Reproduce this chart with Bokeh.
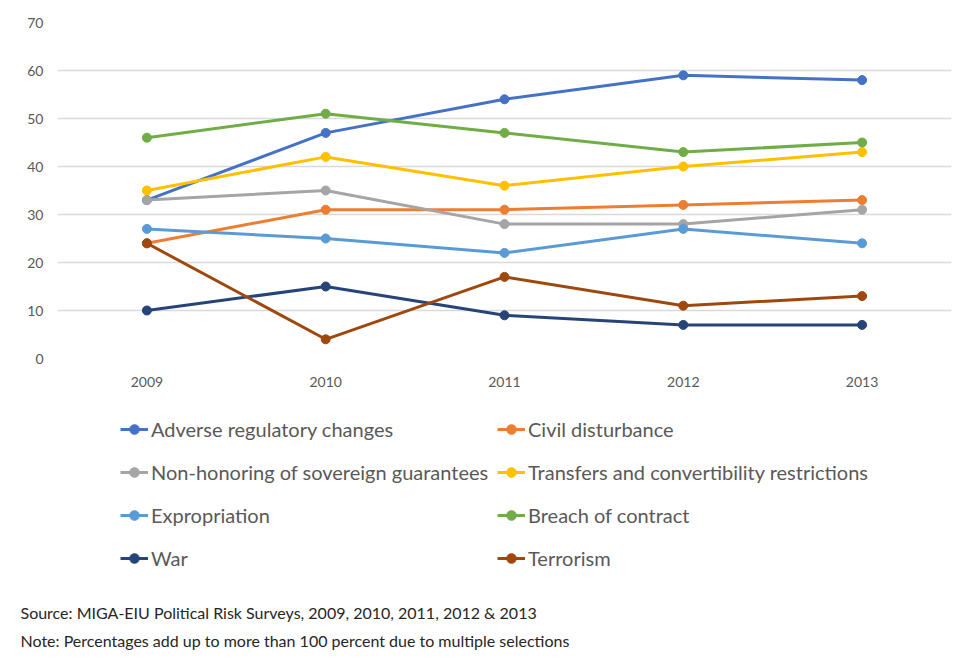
from bokeh.plotting import figure
from bokeh.models import Range1d, Legend, LegendItem, Title
from bokeh.layouts import column
from bokeh.embed import file_html
from bokeh.resources import INLINE

years = ["2009", "2010", "2011", "2012", "2013"]
adverse = [33, 47, 54, 59, 58]
civil = [24, 31, 31, 32, 33]
nonhonor = [33, 35, 28, 28, 31]
transfers = [35, 42, 36, 40, 43]
expropriation = [27, 25, 22, 27, 24]
breach = [46, 51, 47, 43, 45]
war = [10, 15, 9, 7, 7]
terrorism = [24, 4, 17, 11, 13]

series = [
    ("Adverse regulatory changes", adverse, "#4472C4"),
    ("Civil disturbance", civil, "#ED7D31"),
    ("Non-honoring of sovereign guarantees", nonhonor, "#A5A5A5"),
    ("Transfers and convertibility restrictions", transfers, "#FFC000"),
    ("Expropriation", expropriation, "#5B9BD5"),
    ("Breach of contract", breach, "#70AD47"),
    ("War", war, "#264478"),
    ("Terrorism", terrorism, "#9E480E"),
]
source_text = "Source: MIGA-EIU Political Risk Surveys, 2009, 2010, 2011, 2012 & 2013"
note_text = "Note: Percentages add up to more than 100 percent due to multiple selections"

FONT = "Lato"
TXT = "#595959"

# ---- chart ----
p = figure(width=968, height=400, x_range=years, y_range=Range1d(0, 70),
           output_backend="svg", toolbar_location=None,
           min_border_left=57, min_border_right=17, min_border_top=22,
           min_border_bottom=42)
p.outline_line_color = None
p.background_fill_color = "white"
p.border_fill_color = "white"
p.xgrid.grid_line_color = None
p.ygrid.grid_line_color = "#d9d9d9"
p.ygrid.grid_line_width = 1.5
p.yaxis.ticker = list(range(0, 71, 10))

for ax in (p.xaxis[0], p.yaxis[0]):
    ax.axis_line_color = None
    ax.major_tick_line_color = None
    ax.minor_tick_line_color = None
    ax.major_tick_out = 0
    ax.major_tick_in = 0
    ax.major_label_text_font = FONT
    ax.major_label_text_font_size = "14px"
    ax.major_label_text_color = TXT
p.yaxis.major_label_standoff = 14
p.xaxis.major_label_standoff = 18

for name, vals, color in series:
    p.line(years, vals, line_color=color, line_width=3)
    p.scatter(years, vals, size=9, fill_color=color, line_color=color)

# ---- legend + notes panel (series drawn outside its visible range, used for legend glyphs) ----
q = figure(width=968, height=266, x_range=years, y_range=Range1d(1000, 1001),
           output_backend="svg", toolbar_location=None,
           x_axis_location=None, y_axis_location=None,
           min_border_left=57, min_border_right=17, min_border_top=0,
           min_border_bottom=66)
q.outline_line_color = None
q.grid.grid_line_color = None
q.background_fill_color = "white"
q.border_fill_color = "white"

items = []
for name, vals, color in series:
    l = q.line(years, vals, line_color=color, line_width=3)
    s = q.scatter(years, vals, size=7, fill_color=color, line_color=color)
    items.append(LegendItem(label=name, renderers=[l, s]))

def make_legend(its, x):
    lg = Legend(items=its, location=(x, 30), orientation="vertical",
                background_fill_alpha=0, border_line_color=None,
                padding=0, margin=0, spacing=19, label_height=24,
                glyph_height=24, glyph_width=28, label_standoff=3,
                label_text_font=FONT, label_text_font_size="20px",
                label_text_color=TXT)
    q.add_layout(lg, "center")

make_legend(items[0::2], 63)
make_legend(items[1::2], 440)

q.add_layout(Title(text=source_text, align="left", offset=-37, standoff=0,
                   text_font=FONT, text_font_size="16px", text_font_style="normal",
                   text_color="#262626"), "below")
q.add_layout(Title(text=note_text, align="left", offset=-37, standoff=15,
                   text_font=FONT, text_font_size="16px", text_font_style="normal",
                   text_color="#262626"), "below")

layout = column(p, q, spacing=0)
open("out.html", "w").write(file_html(layout, INLINE))
